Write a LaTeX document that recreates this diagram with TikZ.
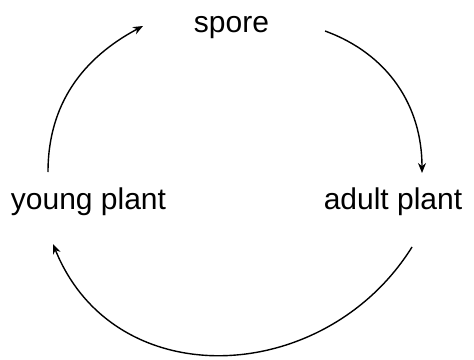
\documentclass[tikz,border=0pt]{standalone}
\usepackage{fontspec}
\setmainfont{Liberation Sans}
\usetikzlibrary{arrows.meta}
\begin{document}
\begin{tikzpicture}[x=0.5pt,y=0.5pt,
  lbl/.style={font=\fontsize{15}{18}\selectfont, inner sep=0pt, anchor=base},
  cyc/.style={line width=0.7pt, -{Stealth[length=5pt,width=4pt]}}]
\useasboundingbox (0,0) rectangle (474,359);
\node[lbl] (spore) at (231.5,326) {spore};
\node[lbl] (young) at (88.5,150) {young plant};
\node[lbl] (adult) at (393,150) {adult plant};
\coordinate (a1s) at (48,187);
\coordinate (a1e) at (143,333);
\coordinate (a2s) at (325,328);
\coordinate (a2e) at (422,186);
\coordinate (a3s) at (412,112);
\coordinate (a3e) at (53,115);
\draw[cyc] (a1s) to[out=90,in=208] (a1e);
\draw[cyc] (a2s) to[out=-20,in=90] (a2e);
\draw[cyc] (a3s) to[out=-122,in=-68,looseness=1.17] (a3e);
\end{tikzpicture}
\end{document}
